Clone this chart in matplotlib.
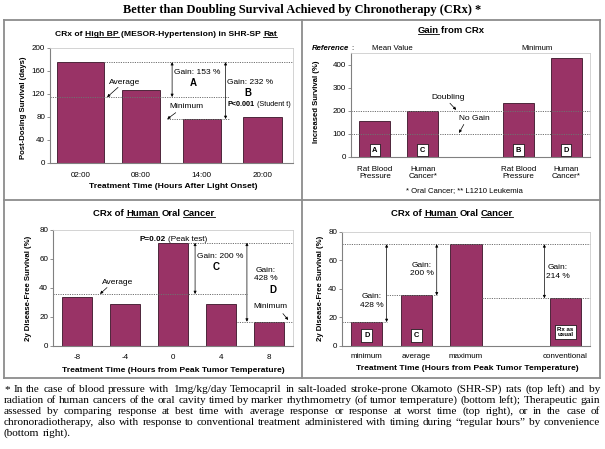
import numpy as np
import matplotlib
matplotlib.use('Agg')
import matplotlib.pyplot as plt
from matplotlib.lines import Line2D

W, H, DPI = 605, 449, 100
SANS = 'Liberation Sans'
SERIF = 'Liberation Serif'
BAR = '#993366'
EDGE = '#3a1428'
DOT = (0, (1.2, 1.2))
GRAY = '#808080'

# ---------------- data ----------------
bp_times = ['02:00', '08:00', '14:00', '20:00']
bp_survival = [175, 126, 76, 80]

gain_groups = ['Rat Blood\nPressure', 'Human\nCancer*', '', 'Rat Blood\nPressure', 'Human\nCancer*']
gain_pct = [153, 200, np.nan, 232, 428]
gain_keys = ['A', 'C', '', 'B', 'D']

oral_hours = ['-8', '-4', '0', '4', '8']
oral_dfs = [33.5, 28.6, 71.2, 28.6, 16.6]

cmp_groups = ['minimum', 'average', 'maximum', '', 'conventional']
cmp_dfs = [16.6, 35.3, 71.2, np.nan, 33.3]
cmp_keys = ['D', 'C', '', '', 'Rx as\nusual']

title = 'Better than Doubling Survival Achieved by Chronotherapy (CRx) *'
foot_lines = [
    '* In the case of blood pressure with 1mg/kg/day Temocapril in salt-loaded stroke-prone Okamoto (SHR-SP) rats (top left) and by',
    'radiation of human cancers of the oral cavity timed by marker rhythmometry (of tumor temperature) (bottom left); Therapeutic gain',
    'assessed by comparing response at best time with average response or response at worst time (top right), or in the case of',
    'chronoradiotherapy, also with response to conventional treatment administered with timing during \u201cregular hours\u201d by convenience',
    '(bottom right).',
]

plt.rcParams['font.family'] = [SANS, 'DejaVu Sans']

fig = plt.figure(figsize=(W / DPI, H / DPI), dpi=DPI)
fig.patch.set_facecolor('white')
renderer = fig.canvas.get_renderer()


def fx(px): return px / W
def fy(py): return 1 - py / H
def rect(x0, y0, x1, y1): return [x0 / W, 1 - y1 / H, (x1 - x0) / W, (y1 - y0) / H]


def text_w(s, size, weight='normal', style='normal', family=SANS):
    t = fig.text(0, 0, s, fontsize=size, fontweight=weight, fontstyle=style, family=family)
    w = t.get_window_extent(renderer).width
    t.remove()
    return w


def rich(segs, cx, base, size, family=SANS, align='center'):
    ws = [text_w(s, size, w, st, family) for s, w, st, u in segs]
    spaces = [text_w('a a', size, w, family=family) - text_w('aa', size, w, family=family)
              for s, w, st, u in segs[:-1]]
    total = sum(ws) + sum(spaces)
    x = cx - total / 2 if align == 'center' else cx
    for i, ((s, w, st, u), ww) in enumerate(zip(segs, ws)):
        fig.text(fx(x), fy(base), s, fontsize=size, fontweight=w, fontstyle=st,
                 family=family, ha='left', va='baseline')
        if u:
            fig.add_artist(Line2D([fx(x), fx(x + ww)], [fy(base + 1.3)] * 2, color='black', lw=0.6))
        x += ww + (spaces[i] if i < len(spaces) else 0)


def style_ax(ax, ylim, yticks, xlim, xlabels, xpad):
    ax.set_ylim(*ylim)
    ax.set_yticks(yticks)
    ax.set_xlim(*xlim)
    ax.set_xticks(np.arange(len(xlabels)))
    ax.set_xticklabels(xlabels, linespacing=1.1)
    for s in ['left', 'bottom']:
        ax.spines[s].set_color(GRAY)
        ax.spines[s].set_linewidth(0.8)
    for s in ['top', 'right']:
        ax.spines[s].set_color('#cccccc')
        ax.spines[s].set_linewidth(0.6)
    ax.tick_params(axis='y', length=2, width=0.6, color=GRAY, labelsize=5.8, pad=1.5)
    ax.tick_params(axis='x', length=0, labelsize=5.8, pad=xpad)


def hline(ax, y, x0, x1):
    ax.plot([x0, x1], [y, y], color='#707070', ls=DOT, lw=0.7, clip_on=False)


def vgap(ax, x, y0, y1):
    ax.annotate('', xy=(x, y0), xytext=(x, y1),
                arrowprops=dict(arrowstyle='<|-|>', color='black', lw=0.5,
                                mutation_scale=4, shrinkA=0, shrinkB=0))


def pointer(ax, p0, p1):
    ax.annotate('', xy=p1, xytext=p0,
                arrowprops=dict(arrowstyle='-|>', color='black', lw=0.5,
                                mutation_scale=4, shrinkA=0, shrinkB=0))


def keybox(ax, x, y, s, size=5.4):
    ax.text(x, y, s, ha='center', va='center', fontsize=size, fontweight='bold',
            linespacing=1.0,
            bbox=dict(boxstyle='square,pad=0.35', fc='white', ec='black', lw=0.5))


TS = 6.0  # annotation size

# ---------------- top left ----------------
ax1 = fig.add_axes(rect(50, 47.7, 293, 162.7))
x1 = np.arange(len(bp_times))
w1 = [0.77, 0.63, 0.63, 0.63]
ax1.bar(x1, bp_survival, width=w1, color=BAR, edgecolor=EDGE, lw=0.6)
style_ax(ax1, (0, 200), np.arange(0, 201, 40), (-0.5, 3.5), bp_times, 6.5)
mx, av, mn = max(bp_survival), np.mean(bp_survival), min(bp_survival)
hline(ax1, mx, w1[0] / 2, 3.5)
hline(ax1, av, -0.5, 2.45)
hline(ax1, mn, 1.42, 2.45)
vgap(ax1, 1.51, mx, av)
vgap(ax1, 2.39, mx, mn)
ax1.text(1.92, 156, 'Gain: 153 %', fontsize=TS, ha='center', va='center')
ax1.text(1.85, 138, 'A', fontsize=7, fontweight='bold', ha='center', va='center')
ax1.text(2.79, 140, 'Gain: 232 %', fontsize=TS, ha='center', va='center')
ax1.text(2.76, 121, 'B', fontsize=7, fontweight='bold', ha='center', va='center')
ax1.text(0.72, 140, 'Average', fontsize=TS, ha='center', va='center')
pointer(ax1, (0.62, 131), (0.44, 114))
ax1.text(1.74, 97, 'Minimum', fontsize=TS, ha='center', va='center')
pointer(ax1, (1.57, 87), (1.43, 76))
rich([('P<0.001', 'bold', 'normal', False), ('(Student t)', 'normal', 'normal', False)], 259, 105.5, 5.2)

# ---------------- top right ----------------
ax2 = fig.add_axes(rect(351, 53, 590, 156.7))
x2 = np.arange(len(gain_groups))
ax2.bar(x2, gain_pct, width=0.65, color=BAR, edgecolor=EDGE, lw=0.6)
style_ax(ax2, (0, 450), np.arange(0, 401, 100), (-0.5, 4.5), gain_groups, 6.5)
hline(ax2, 200, -0.5, 4.5)
hline(ax2, 100, -0.5, 4.5)
ax2.text(1.53, 256, 'Doubling', fontsize=TS, ha='center', va='center')
pointer(ax2, (1.57, 232), (1.7, 203))
ax2.text(2.09, 164, 'No Gain', fontsize=TS, ha='center', va='center')
pointer(ax2, (1.86, 140), (1.76, 103))
for xi, k in zip(x2, gain_keys):
    if k:
        keybox(ax2, xi, 28, k)

# ---------------- bottom left ----------------
ax3 = fig.add_axes(rect(53, 230, 293, 345.7))
x3 = np.arange(len(oral_hours))
ax3.bar(x3, oral_dfs, width=0.63, color=BAR, edgecolor=EDGE, lw=0.6)
style_ax(ax3, (0, 80), np.arange(0, 81, 20), (-0.5, 4.5), oral_hours, 6.0)
mx, av, mn = max(oral_dfs), np.mean(oral_dfs), min(oral_dfs)
imx = int(np.argmax(oral_dfs))
hline(ax3, mx, imx + 0.315, 4.5)
hline(ax3, av, -0.5, 3.55)
hline(ax3, mn, 3.33, 4.5)
vgap(ax3, 2.46, mx, av)
vgap(ax3, 3.54, mx, mn)
ax3.text(2.98, 62, 'Gain: 200 %', fontsize=TS, ha='center', va='center')
ax3.text(2.9, 54.5, 'C', fontsize=7, fontweight='bold', ha='center', va='center')
ax3.text(3.94, 49.2, 'Gain:\n428 %', fontsize=TS, ha='center', va='center', linespacing=1.3)
ax3.text(4.08, 38.5, 'D', fontsize=7, fontweight='bold', ha='center', va='center')
ax3.text(0.84, 43.4, 'Average', fontsize=TS, ha='center', va='center')
pointer(ax3, (0.625, 40.2), (0.48, 35.8))
ax3.text(4.03, 26.8, 'Minimum', fontsize=TS, ha='center', va='center')
pointer(ax3, (4.29, 22.2), (4.4, 17.8))
rich([('P=0.02', 'bold', 'normal', False), ('(Peak test)', 'normal', 'normal', False)], 173, 240.5, 5.9)

# ---------------- bottom right ----------------
ax4 = fig.add_axes(rect(342, 231.7, 590, 345.7))
x4 = np.arange(len(cmp_groups))
ax4.bar(x4, cmp_dfs, width=0.63, color=BAR, edgecolor=EDGE, lw=0.6)
style_ax(ax4, (0, 80), np.arange(0, 81, 20), (-0.5, 4.5), cmp_groups, 5.5)
mx = np.nanmax(cmp_dfs)
hline(ax4, mx, -0.5, 4.5)
hline(ax4, cmp_dfs[0], -0.5, 0.40)
hline(ax4, cmp_dfs[1], 0.40, 1.41)
hline(ax4, cmp_dfs[4], 2.32, 4.5)
vgap(ax4, 0.40, mx, cmp_dfs[0])
vgap(ax4, 1.41, mx, cmp_dfs[1])
vgap(ax4, 3.58, mx, cmp_dfs[4])
ax4.text(0.105, 31.4, 'Gain:\n428 %', fontsize=TS, ha='center', va='center', linespacing=1.3)
ax4.text(1.11, 53.5, 'Gain:\n200 %', fontsize=TS, ha='center', va='center', linespacing=1.3)
ax4.text(3.85, 51.7, 'Gain:\n214 %', fontsize=TS, ha='center', va='center', linespacing=1.3)
for xi, k in zip(x4, cmp_keys):
    if k:
        if '\n' in k:
            keybox(ax4, xi, 9.6, k, size=4.4)
        else:
            keybox(ax4, xi, 7.2, k)

# ---------------- panel titles & labels ----------------
B, N = 'bold', 'normal'
rich([('CRx of', B, N, False), ('High BP', B, N, True),
      ('(MESOR-Hypertension) in SHR-SP', B, N, False), ('Rat', B, N, True)], 166, 36, 6.1)
rich([('Gain', B, N, True), ('from CRx', B, N, False)], 451, 33, 6.8)
rich([('CRx of', B, N, False), ('Human', B, N, True), ('Oral', B, N, False), ('Cancer', B, N, True)], 154, 215.5, 6.8)
rich([('CRx of', B, N, False), ('Human', B, N, True), ('Oral', B, N, False), ('Cancer', B, N, True)], 452, 215.5, 6.8)

rich([('Reference', B, 'italic', False), (':', N, N, False)], 312, 50.5, 5.6, align='left')
fig.text(fx(392), fy(48), 'Mean Value', fontsize=5.6, ha='center', va='center')
fig.text(fx(537), fy(48), 'Minimum', fontsize=5.6, ha='center', va='center')
fig.text(fx(464), fy(191), '* Oral Cancer; ** L1210 Leukemia', fontsize=5.6, ha='center', va='center')

YL = dict(rotation=90, fontsize=5.6, fontweight='bold', ha='center', va='center')
fig.text(fx(24), fy(108), 'Post-Dosing Survival (days)', **YL)
fig.text(fx(316), fy(102), 'Increased Survival (%)', **YL)
fig.text(fx(29), fy(288), '2y Disease-Free Survival (%)', **YL)
fig.text(fx(320), fy(288), '2y Disease-Free Survival (%)', **YL)

XL = dict(fontsize=6.1, fontweight='bold', ha='center', va='center')
fig.text(fx(173), fy(186), 'Treatment Time (Hours After Light Onset)', **XL)
fig.text(fx(173), fy(370), 'Treatment Time (Hours from Peak Tumor Temperature)', **XL)
fig.text(fx(467), fy(369), 'Treatment Time (Hours from Peak Tumor Temperature)', **XL)

# ---------------- frame ----------------
FR = dict(color='#8c8c8c', lw=1.3)
for xs, ys in [([4, 600], [20, 20]), ([4, 600], [378, 378]), ([4, 4], [20, 378]),
               ([600, 600], [20, 378]), ([4, 600], [200, 200]), ([302, 302], [20, 378])]:
    fig.add_artist(Line2D([fx(v) for v in xs], [fy(v) for v in ys], **FR))

# ---------------- main title ----------------
tsize = 10 * 360 / text_w(title, 10, 'bold', family=SERIF)
fig.text(fx(302), fy(13), title, fontsize=tsize, fontweight='bold', family=SERIF,
         ha='center', va='baseline')

# ---------------- justified footnote ----------------
left, right = 4, 600
space10 = text_w('a a', 10, family=SERIF) - text_w('aa', 10, family=SERIF)
nat = max(text_w(l, 10, family=SERIF) for l in foot_lines)
fsize = 10 * (right - left - 2) / nat
space = space10 * fsize / 10
bases = [392, 403, 414, 425, 436]
for i, (line, yb) in enumerate(zip(foot_lines, bases)):
    words = line.split(' ')
    ws = [text_w(w, fsize, family=SERIF) for w in words]
    if i < len(foot_lines) - 1:
        gap = (right - left - sum(ws)) / (len(words) - 1)
    else:
        gap = space
    xx = left
    for wd, ww in zip(words, ws):
        fig.text(fx(xx), fy(yb), wd, fontsize=fsize, family=SERIF, ha='left', va='baseline')
        xx += ww + gap

fig.savefig('out.png', dpi=DPI, facecolor='white')
